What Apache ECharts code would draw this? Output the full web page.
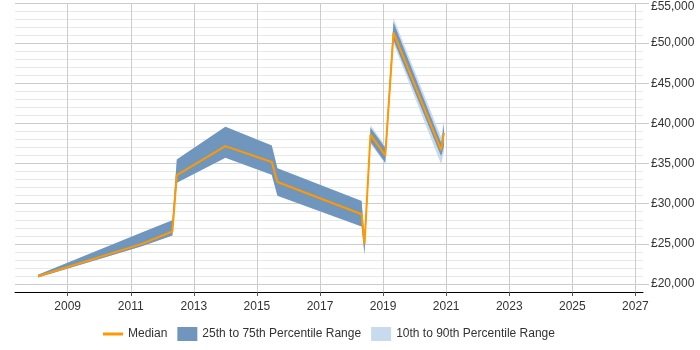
<!DOCTYPE html>
<html>
<head>
<meta charset="utf-8">
<script src="https://cdn.jsdelivr.net/npm/echarts@6/dist/echarts.min.js"></script>
<style>
  html, body { margin: 0; padding: 0; background: #fff; }
  #main { width: 700px; height: 350px; }
</style>
</head>
<body>
<div id="main"></div>
<script>
// points along the time line (decimal years)
var years  = [2008.06, 2011.35, 2012.32, 2012.46, 2014.0, 2015.47, 2015.65, 2018.32, 2018.41, 2018.6, 2019.07, 2019.33, 2020.84, 2020.93];
var median = [20970, 25000, 26540, 33550, 37170, 35200, 32700, 28690, 24960, 38600, 36000, 51300, 36670, 38830];
var p25    = [20800, 24700, 26050, 32600, 35730, 33600, 31000, 27160, 23700, 37700, 35100, 50400, 35900, 37200];
var p75    = [21150, 26400, 27940, 35510, 39570, 37240, 34400, 30340, 25300, 39450, 36970, 52600, 37600, 39860];
var p10    = [20800, 24700, 26050, 32600, 35730, 33600, 31000, 27160, 23600, 37500, 34900, 50000, 34900, 36500];
var p90    = [21150, 26400, 27940, 35510, 39570, 37240, 34400, 30340, 25400, 39800, 37200, 53100, 38300, 40480];

var yearTicks = [2009, 2011, 2013, 2015, 2017, 2019, 2021, 2023, 2025, 2027];
var majorTicks = [20000, 25000, 30000, 35000, 40000, 45000, 50000, 55000];

var darkBlue = '#7096be';
var lightBlue = '#c8daed';
var orange = '#ff9900';
var font = 'Liberation Sans, Arial';

// band polygon: upper edge left->right, lower edge right->left
function bandRenderer(lo, hi, color) {
  return function (params, api) {
    var pts = [];
    for (var i = 0; i < years.length; i++) pts.push(api.coord([years[i], hi[i]]));
    for (var j = years.length - 1; j >= 0; j--) pts.push(api.coord([years[j], lo[j]]));
    return { type: 'polygon', shape: { points: pts }, style: { fill: color } };
  };
}

var chart = echarts.init(document.getElementById('main'));

var option = {
  animation: false,
  backgroundColor: '#fff',
  grid: { left: 15, right: 57, top: 3, bottom: 58, outerBoundsMode: 'none' },
  legend: {
    left: 98,
    top: 322,
    itemWidth: 20,
    itemHeight: 14,
    itemGap: 10,
    textStyle: { fontFamily: font, fontSize: 12, color: '#333' },
    data: [
      { name: 'Median', icon: 'path://M0,0H20V3H0Z', itemStyle: { color: orange } },
      { name: '25th to 75th Percentile Range', icon: 'rect', itemStyle: { color: darkBlue } },
      { name: '10th to 90th Percentile Range', icon: 'rect', itemStyle: { color: lightBlue } }
    ]
  },
  xAxis: {
    type: 'value',
    min: 2007.33,
    max: 2027.24,
    axisLine: { show: true, lineStyle: { color: '#000', width: 1 } },
    axisTick: { show: true, length: 4, lineStyle: { color: '#555' }, customValues: yearTicks },
    axisLabel: {
      customValues: yearTicks,
      color: '#333', fontSize: 12, fontFamily: font, margin: 9,
      formatter: function (v) { return String(v); }
    },
    splitLine: { show: true, lineStyle: { color: '#cccccc' } }
  },
  yAxis: [{
    type: 'value',
    position: 'right',
    min: 19000,
    max: 55000,
    interval: 1000,
    axisLine: { show: false },
    axisTick: { show: false },
    axisLabel: {
      color: '#333', fontSize: 12, fontFamily: font, margin: 8,
      formatter: function (v) {
        if (v % 5000 !== 0) return '';
        var s = '£' + v.toLocaleString('en-GB');
        return v === 55000 ? '{top|' + s + '}' : s;
      },
      rich: { top: { padding: [8, 0, 0, 0], fontSize: 12, fontFamily: font, color: '#333' } }
    },
    splitLine: { show: true, lineStyle: { color: ['#e8e8e8', '#cccccc', '#e8e8e8', '#e8e8e8', '#e8e8e8'] } }
  }, {
    type: 'value',
    position: 'right',
    min: 19000,
    max: 55000,
    axisLine: { show: false },
    axisTick: { show: true, length: 6, lineStyle: { color: '#cccccc' }, customValues: majorTicks },
    axisLabel: { show: false },
    splitLine: { show: false }
  }],
  series: [
    {
      name: '10th to 90th Percentile Range', type: 'custom', silent: true,
      data: [[years[0], p90[0]]], encode: { x: 0, y: 1 },
      itemStyle: { color: lightBlue },
      renderItem: bandRenderer(p10, p90, lightBlue)
    },
    {
      name: '25th to 75th Percentile Range', type: 'custom', silent: true,
      data: [[years[0], p75[0]]], encode: { x: 0, y: 1 },
      itemStyle: { color: darkBlue },
      renderItem: bandRenderer(p25, p75, darkBlue)
    },
    {
      name: 'Median', type: 'line',
      data: years.map(function (x, i) { return [x, median[i]]; }),
      symbol: 'none', itemStyle: { color: orange },
      lineStyle: { color: orange, width: 2 }
    }
  ]
};

chart.setOption(option);
</script>
</body>
</html>
